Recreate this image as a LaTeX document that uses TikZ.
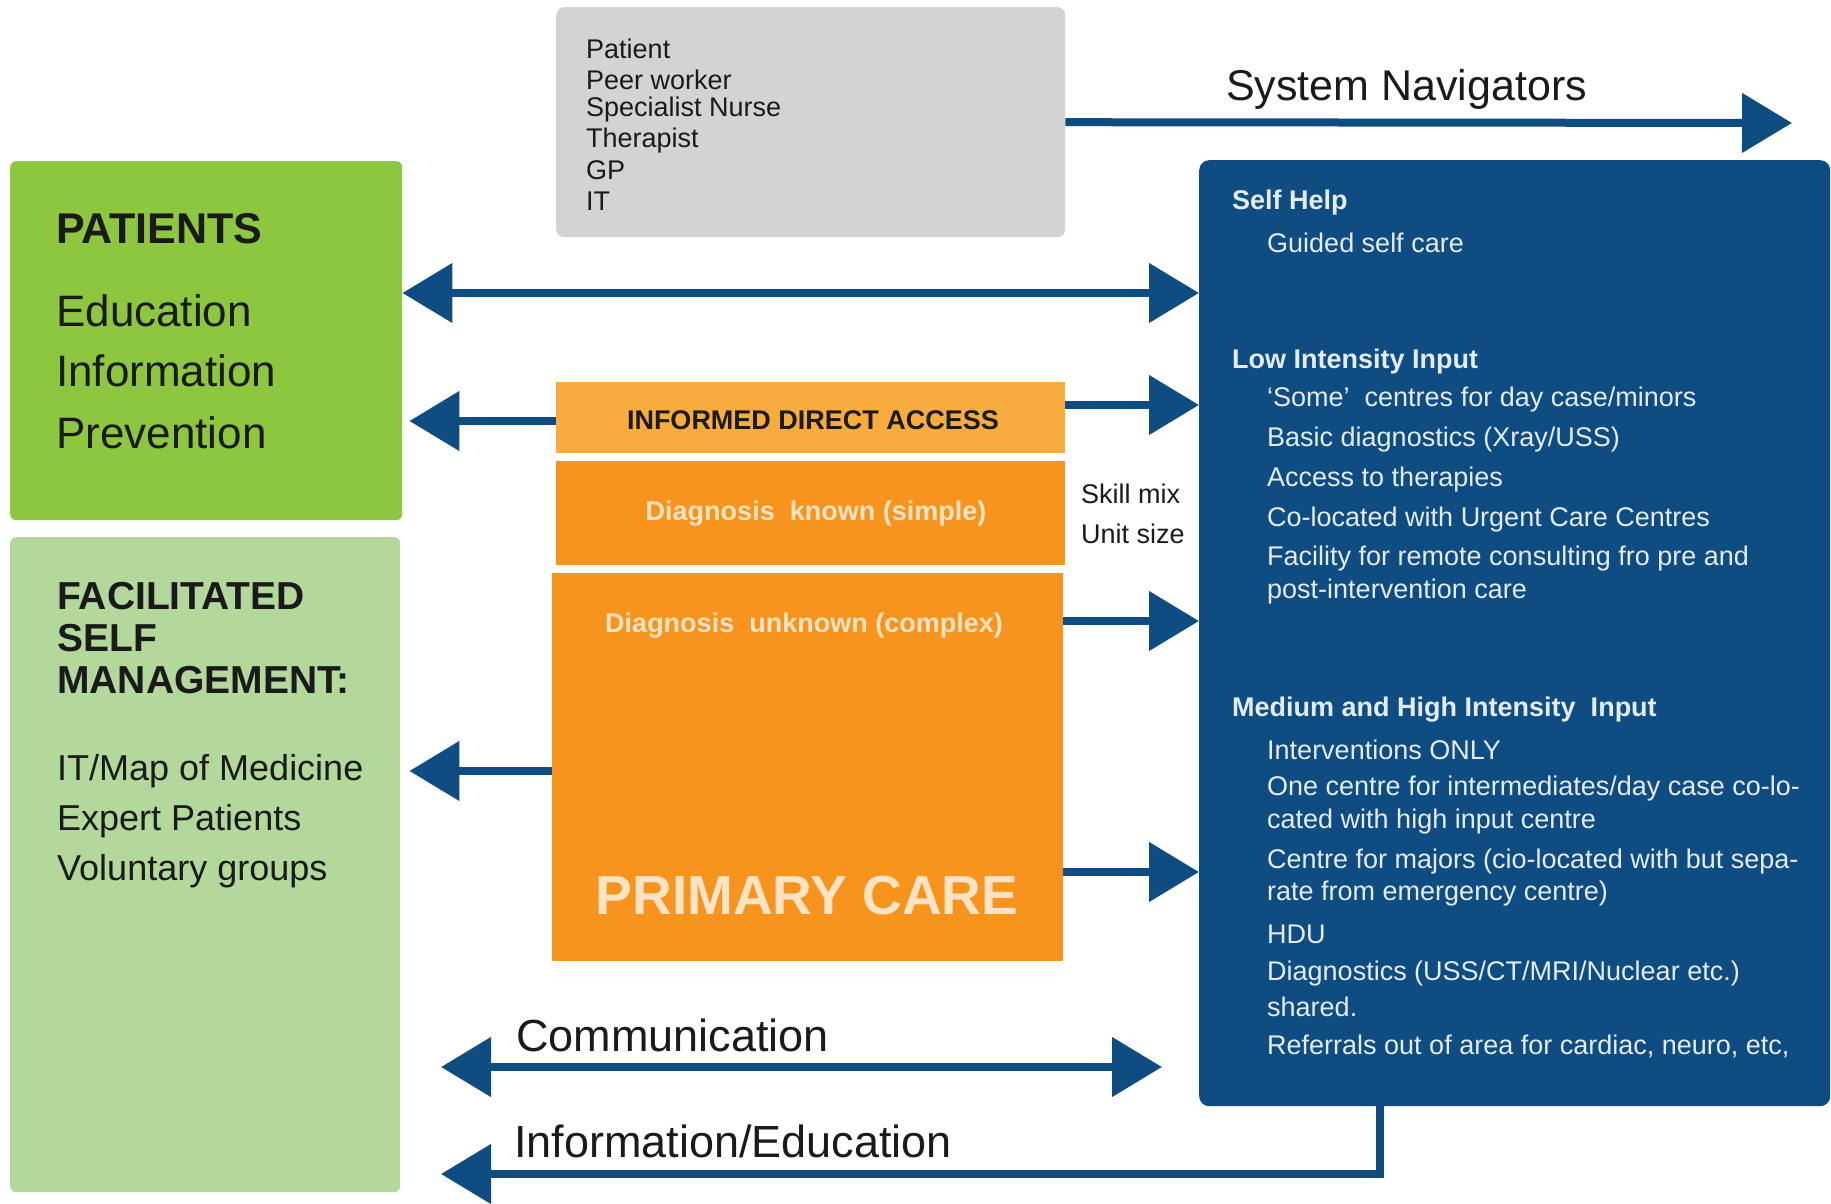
\documentclass[tikz,border=0pt]{standalone}
\usepackage{fontspec}
\setmainfont{Liberation Sans}
\usetikzlibrary{arrows.meta}
\definecolor{navblue}{HTML}{0F4C81}
\definecolor{patgreen}{HTML}{8DC63F}
\definecolor{selfgreen}{HTML}{B2D89B}
\definecolor{rolegray}{HTML}{D1D3D4}
\definecolor{idaorange}{HTML}{F9AC3E}
\definecolor{pcorange}{HTML}{F7941E}
\definecolor{creamtext}{HTML}{FCE3C3}
\definecolor{icetext}{HTML}{E4EDF6}
\definecolor{inkdark}{HTML}{1A1A1A}

\tikzset{
  box/.style={rectangle, inner sep=0pt, anchor=north west},
  txt/.style={inner sep=0pt, anchor=west, text=inkdark},
  bluehead/.style={txt, text=icetext, font=\fontsize{27}{27}\selectfont\bfseries},
  blueitem/.style={txt, text=icetext, font=\fontsize{27}{27}\selectfont},
  flow/.style={draw=navblue, line width=8pt, -{Triangle[length=50pt,width=58pt]}},
  twoway/.style={flow, {Triangle[length=50pt,width=58pt]}-{Triangle[length=50pt,width=58pt]}}
}

\begin{document}
\begin{tikzpicture}[x=1pt, y=-1pt]
  \path[fill=white, use as bounding box] (0,0) rectangle (1831,1204);

  % Boxes
  \node[box, fill=rolegray, rounded corners=8pt, minimum width=509pt, minimum height=230pt] (roles) at (556,7) {};
  \node[box, fill=patgreen, rounded corners=6pt, minimum width=392pt, minimum height=359pt] (patients) at (10,161) {};
  \node[box, fill=selfgreen, rounded corners=6pt, minimum width=390pt, minimum height=655pt] (facil) at (10,537) {};
  \node[box, fill=navblue, rounded corners=10pt, minimum width=631pt, minimum height=946pt] (care) at (1199,160) {};
  \node[box, fill=idaorange, minimum width=509pt, minimum height=71pt] (ida) at (556,382) {};
  \node[box, fill=pcorange, minimum width=509pt, minimum height=104pt] (diagknown) at (556,461) {};
  \node[box, fill=pcorange, minimum width=511pt, minimum height=388pt] (pc) at (552,573) {};

  % Roles list
  \foreach \t [count=\i] in {Patient, Peer worker, Specialist Nurse, Therapist, GP, IT}
    \node[txt, font=\fontsize{27}{27}\selectfont] (role\i) at (586,{18.6+30.4*\i}) {\t};

  % Patients
  \node[txt, font=\fontsize{43}{43}\selectfont\bfseries] (pattitle) at (56,229) {PATIENTS};
  \foreach \y/\t [count=\i] in {311/Education, 371/Information, 433/Prevention}
    \node[txt, font=\fontsize{44}{44}\selectfont] (patline\i) at (56,\y) {\t};

  % Facilitated self management
  \foreach \y/\t [count=\i] in {596/FACILITATED, 638/SELF, 680/MANAGEMENT:}
    \node[txt, font=\fontsize{39}{39}\selectfont\bfseries] (faciltitle\i) at (57,\y) {\t};
  \foreach \y/\t [count=\i] in {771/{IT/Map of Medicine}, 821/Expert Patients, 871/Voluntary groups}
    \node[txt, font=\fontsize{36}{36}\selectfont] (facilline\i) at (57,\y) {\t};

  % Primary care column
  \node[txt, anchor=center, font=\fontsize{27}{27}\selectfont\bfseries] (idalabel) at (813,420) {INFORMED DIRECT ACCESS};
  \node[txt, anchor=center, text=creamtext, font=\fontsize{27}{27}\selectfont\bfseries] (knownlabel) at (816,514) {Diagnosis\ \ known (simple)};
  \node[txt, anchor=center, text=creamtext, font=\fontsize{27}{27}\selectfont\bfseries] (unknownlabel) at (804,626) {Diagnosis\ \ unknown (complex)};
  \node[txt, anchor=center, text=creamtext, font=\fontsize{55}{55}\selectfont\bfseries] (pclabel) at (807,896) {PRIMARY CARE};
  \node[txt, font=\fontsize{27}{27}\selectfont] (skillmix) at (1081,494) {Skill mix};
  \node[txt, font=\fontsize{27}{27}\selectfont] (unitsize) at (1081,534) {Unit size};

  % Care levels
  \node[bluehead] (selfhelp) at (1232,203) {Self Help};
  \node[blueitem] (guided) at (1267,243) {Guided self care};
  \node[bluehead] (lowhead) at (1232,362) {Low Intensity Input};
  \foreach \y/\t [count=\i] in {400/{‘Some’\ \ centres for day case/minors}, 440/{Basic diagnostics (Xray/USS)},
      480/Access to therapies, 520/Co-located with Urgent Care Centres,
      559/Facility for remote consulting fro pre and, 592/post-intervention care}
    \node[blueitem] (low\i) at (1267,\y) {\t};
  \node[bluehead] (midhead) at (1232,710) {Medium and High Intensity\ \ Input};
  \foreach \y/\t [count=\i] in {750/Interventions ONLY, 789/{One centre for intermediates/day case co-lo-},
      822/cated with high input centre, 862/Centre for majors (cio-located with but sepa-,
      894/rate from emergency centre), 934/HDU, 974/{Diagnostics (USS/CT/MRI/Nuclear etc.)},
      1007/shared., 1046/{Referrals out of area for cardiac, neuro, etc,}}
    \node[blueitem] (mid\i) at (1267,\y) {\t};

  % Flow labels
  \node[txt, font=\fontsize{43}{43}\selectfont] (navlabel) at (1226,89) {System Navigators};
  \node[txt, font=\fontsize{45}{45}\selectfont] (commlabel) at (516,1035) {Communication};
  \node[txt, font=\fontsize{45}{45}\selectfont] (infolabel) at (514,1141) {Information/Education};

  % Rows for the connectors
  \coordinate (navend) at (1792,123);
  \coordinate (row1) at (0,293);
  \coordinate (idaout) at (0,405);
  \coordinate (idaback) at (0,421);
  \coordinate (unkout) at (0,621);
  \coordinate (pcback) at (0,771);
  \coordinate (pcout) at (0,872);
  \coordinate (commL) at (441,1067);
  \coordinate (commR) at (1162,1067);
  \coordinate (infodrop) at (1380,1174);
  \coordinate (infoL) at (441,1174);

  % Connectors
  \draw[flow] (roles.east) -- (navend);
  \draw[twoway] (patients.east |- row1) -- (care.west |- row1);
  \draw[flow] (ida.east |- idaout) -- (care.west |- idaout);
  \draw[flow, shorten >=7pt] (ida.west |- idaback) -- (patients.east |- idaback);
  \draw[flow] (pc.east |- unkout) -- (care.west |- unkout);
  \draw[flow, shorten >=9pt] (pc.west |- pcback) -- (facil.east |- pcback);
  \draw[flow] (pc.east |- pcout) -- (care.west |- pcout);
  \draw[twoway] (commL) -- (commR);
  \draw[flow] (care.south -| infodrop) -- (infodrop) -- (infoL);
\end{tikzpicture}
\end{document}
